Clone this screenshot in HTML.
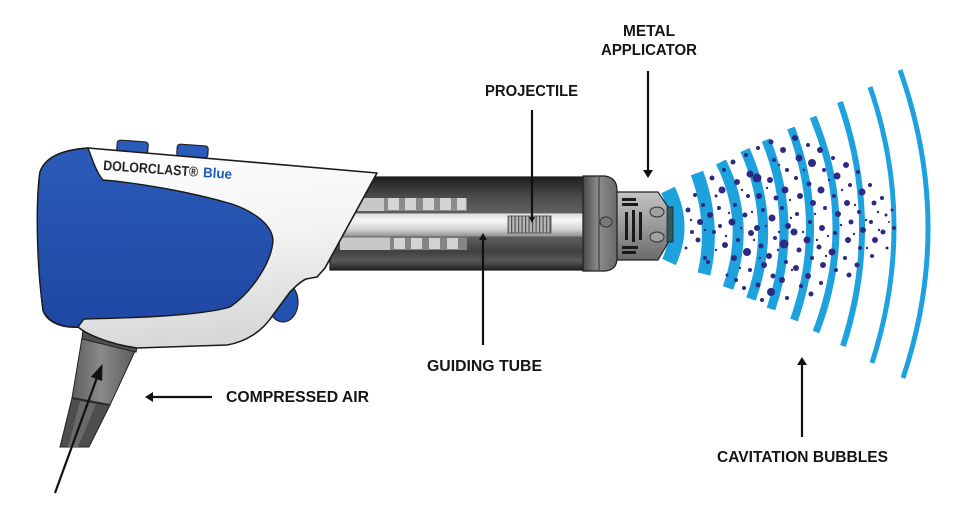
<!DOCTYPE html>
<html><head><meta charset="utf-8"><style>
html,body{margin:0;padding:0;background:#fff;}
svg{display:block;}
text{font-family:"Liberation Sans",Arial,sans-serif;font-weight:bold;}
</style></head><body>
<svg width="967" height="518" viewBox="0 0 967 518" xmlns="http://www.w3.org/2000/svg">
<defs>
<linearGradient id="tube" x1="0" y1="0" x2="0" y2="1">
 <stop offset="0" stop-color="#1e1e1e"/>
 <stop offset="0.12" stop-color="#383838"/>
 <stop offset="0.22" stop-color="#4c4c4c"/>
 <stop offset="0.4" stop-color="#626262"/>
 <stop offset="0.66" stop-color="#5c5c5c"/>
 <stop offset="0.8" stop-color="#404040"/>
 <stop offset="0.9" stop-color="#585858"/>
 <stop offset="1" stop-color="#222"/>
</linearGradient>
<linearGradient id="rod" x1="0" y1="0" x2="0" y2="1">
 <stop offset="0" stop-color="#d8d8d8"/>
 <stop offset="0.3" stop-color="#f7f7f7"/>
 <stop offset="0.7" stop-color="#d0d0d0"/>
 <stop offset="1" stop-color="#8a8a8a"/>
</linearGradient>
<linearGradient id="white" x1="0" y1="0" x2="0.2" y2="1">
 <stop offset="0" stop-color="#ffffff"/>
 <stop offset="0.55" stop-color="#f3f3f3"/>
 <stop offset="1" stop-color="#d8d8d8"/>
</linearGradient>
<linearGradient id="blue" x1="0" y1="0" x2="0" y2="1">
 <stop offset="0" stop-color="#2b5bb9"/>
 <stop offset="1" stop-color="#1f47a3"/>
</linearGradient>
<linearGradient id="cap" x1="0" y1="0" x2="1" y2="0">
 <stop offset="0" stop-color="#4a4a4a"/>
 <stop offset="0.45" stop-color="#8c8c8c"/>
 <stop offset="1" stop-color="#6a6a6a"/>
</linearGradient>
<linearGradient id="app" x1="0" y1="0" x2="0" y2="1">
 <stop offset="0" stop-color="#c4c4c4"/>
 <stop offset="0.5" stop-color="#9a9a9a"/>
 <stop offset="1" stop-color="#6a6a6a"/>
</linearGradient>
<linearGradient id="cone" x1="0" y1="0" x2="1" y2="0">
 <stop offset="0" stop-color="#5e5e5e"/>
 <stop offset="0.45" stop-color="#8a8a8a"/>
 <stop offset="1" stop-color="#5a5a5a"/>
</linearGradient>
<pattern id="coil" width="3.5" height="20" patternUnits="userSpaceOnUse">
 <rect width="3.5" height="20" fill="#b5b5b5"/>
 <rect width="1.2" height="20" fill="#555"/>
</pattern>
</defs>

<!-- waves -->
<g fill="none" stroke="#1ea2de" stroke-linecap="butt">
 <path d="M668,190 Q685.5,226 669,262" stroke-width="15"/>
 <path d="M697,173 Q715.5,224.5 704,274" stroke-width="13"/>
 <path d="M721,162 Q751.5,223 728,288" stroke-width="11"/>
 <path d="M745,150 Q778,223.5 751,299" stroke-width="10"/>
 <path d="M766,140 Q799.5,223.5 771,309" stroke-width="9"/>
 <path d="M791,128 Q827.5,224 794,320" stroke-width="8"/>
 <path d="M813,117 Q857.5,223.5 816,332" stroke-width="7"/>
 <path d="M840,102 Q882.5,224 843,346" stroke-width="6"/>
 <path d="M870,87 Q917,223 872,363" stroke-width="5"/>
 <path d="M900,70 Q954.5,224 903,378" stroke-width="5"/>
</g>

<!-- bubbles -->
<g fill="#2e2a84">
<circle cx="688" cy="210" r="2.5"/><circle cx="692" cy="232" r="2"/><circle cx="686" cy="248" r="1.5"/><circle cx="695" cy="195" r="2"/>
<circle cx="700" cy="222" r="3"/><circle cx="703" cy="205" r="2"/><circle cx="698" cy="240" r="2.5"/><circle cx="705" cy="258" r="2"/>
<circle cx="712" cy="178" r="2.5"/><circle cx="710" cy="215" r="3"/><circle cx="714" cy="232" r="2"/><circle cx="708" cy="262" r="2"/><circle cx="716" cy="196" r="1.5"/>
<circle cx="722" cy="190" r="3.5"/><circle cx="720" cy="226" r="2"/><circle cx="725" cy="245" r="3"/><circle cx="724" cy="170" r="2"/><circle cx="727" cy="275" r="1.5"/><circle cx="719" cy="208" r="2"/>
<circle cx="733" cy="162" r="2.5"/><circle cx="737" cy="182" r="3"/><circle cx="735" cy="205" r="2"/><circle cx="732" cy="222" r="3.5"/><circle cx="738" cy="240" r="2"/><circle cx="734" cy="258" r="3"/><circle cx="736" cy="280" r="2"/>
<circle cx="746" cy="155" r="2"/><circle cx="750" cy="174" r="3.5"/><circle cx="748" cy="196" r="2"/><circle cx="745" cy="215" r="2.5"/><circle cx="751" cy="233" r="3"/><circle cx="747" cy="252" r="4"/><circle cx="750" cy="270" r="2"/><circle cx="744" cy="288" r="2"/>
<circle cx="758" cy="148" r="2"/><circle cx="757" cy="178" r="4.5"/><circle cx="759" cy="196" r="3"/><circle cx="763" cy="210" r="2"/><circle cx="757" cy="228" r="3"/><circle cx="761" cy="246" r="2.5"/><circle cx="764" cy="265" r="3"/><circle cx="758" cy="285" r="2.5"/><circle cx="762" cy="300" r="2"/>
<circle cx="771" cy="142" r="2.5"/><circle cx="774" cy="160" r="2"/><circle cx="770" cy="180" r="3"/><circle cx="776" cy="198" r="2.5"/><circle cx="772" cy="218" r="3.5"/><circle cx="775" cy="238" r="2"/><circle cx="769" cy="256" r="3"/><circle cx="773" cy="276" r="2.5"/><circle cx="771" cy="292" r="4"/>
<circle cx="783" cy="150" r="3"/><circle cx="787" cy="170" r="2"/><circle cx="785" cy="190" r="3.5"/><circle cx="782" cy="208" r="2"/><circle cx="788" cy="226" r="3"/><circle cx="784" cy="244" r="4.5"/><circle cx="786" cy="262" r="2"/><circle cx="782" cy="280" r="3"/><circle cx="787" cy="298" r="2"/>
<circle cx="795" cy="138" r="3"/><circle cx="799" cy="158" r="3.5"/><circle cx="796" cy="178" r="2"/><circle cx="800" cy="196" r="3"/><circle cx="797" cy="214" r="2"/><circle cx="794" cy="232" r="3.5"/><circle cx="799" cy="250" r="2.5"/><circle cx="796" cy="268" r="3"/><circle cx="801" cy="286" r="2"/>
<circle cx="808" cy="145" r="2"/><circle cx="812" cy="163" r="4"/><circle cx="809" cy="184" r="2.5"/><circle cx="813" cy="203" r="3"/><circle cx="810" cy="222" r="2"/><circle cx="807" cy="240" r="3.5"/><circle cx="812" cy="258" r="2"/><circle cx="808" cy="276" r="3"/><circle cx="811" cy="294" r="2.5"/>
<circle cx="820" cy="150" r="3"/><circle cx="824" cy="170" r="2"/><circle cx="821" cy="190" r="3.5"/><circle cx="825" cy="208" r="2"/><circle cx="822" cy="228" r="3"/><circle cx="819" cy="247" r="2.5"/><circle cx="823" cy="265" r="3"/><circle cx="821" cy="283" r="2"/>
<circle cx="833" cy="158" r="2"/><circle cx="837" cy="176" r="3.5"/><circle cx="834" cy="196" r="2"/><circle cx="838" cy="214" r="3"/><circle cx="835" cy="233" r="2"/><circle cx="832" cy="252" r="3.5"/><circle cx="836" cy="270" r="2"/>
<circle cx="846" cy="165" r="3"/><circle cx="850" cy="185" r="2"/><circle cx="847" cy="203" r="3"/><circle cx="851" cy="222" r="2.5"/><circle cx="848" cy="240" r="3"/><circle cx="845" cy="258" r="2"/><circle cx="849" cy="275" r="2.5"/>
<circle cx="858" cy="172" r="2"/><circle cx="862" cy="192" r="3.5"/><circle cx="859" cy="212" r="2"/><circle cx="863" cy="230" r="3"/><circle cx="860" cy="248" r="2"/><circle cx="857" cy="265" r="2.5"/>
<circle cx="870" cy="185" r="2"/><circle cx="874" cy="203" r="2.5"/><circle cx="871" cy="222" r="2"/><circle cx="875" cy="240" r="3"/><circle cx="872" cy="256" r="2"/>
<circle cx="882" cy="198" r="2"/><circle cx="886" cy="215" r="1.5"/><circle cx="883" cy="232" r="2.5"/><circle cx="887" cy="248" r="1.5"/>
<circle cx="892" cy="210" r="1.5"/><circle cx="894" cy="228" r="2"/>
<!-- small specks -->
<circle cx="691" cy="220" r="1.2"/><circle cx="705" cy="230" r="1.2"/><circle cx="716" cy="250" r="1.2"/><circle cx="729" cy="213" r="1.2"/><circle cx="741" cy="228" r="1.2"/>
<circle cx="742" cy="190" r="1.2"/><circle cx="754" cy="240" r="1.2"/><circle cx="766" cy="226" r="1.2"/><circle cx="767" cy="188" r="1.2"/><circle cx="779" cy="232" r="1.2"/>
<circle cx="779" cy="165" r="1.2"/><circle cx="791" cy="218" r="1.2"/><circle cx="792" cy="270" r="1.2"/><circle cx="803" cy="232" r="1.2"/><circle cx="804" cy="170" r="1.2"/>
<circle cx="815" cy="214" r="1.2"/><circle cx="817" cy="240" r="1.2"/><circle cx="828" cy="236" r="1.2"/><circle cx="829" cy="180" r="1.2"/><circle cx="841" cy="225" r="1.2"/>
<circle cx="842" cy="190" r="1.2"/><circle cx="854" cy="234" r="1.2"/><circle cx="855" cy="205" r="1.2"/><circle cx="866" cy="220" r="1.2"/><circle cx="867" cy="248" r="1.2"/>
<circle cx="878" cy="212" r="1.2"/><circle cx="879" cy="230" r="1.2"/><circle cx="889" cy="222" r="1"/><circle cx="760" cy="258" r="1.2"/><circle cx="778" cy="250" r="1.2"/>
<circle cx="740" cy="268" r="1.2"/><circle cx="726" cy="236" r="1.2"/><circle cx="752" cy="212" r="1.2"/><circle cx="790" cy="200" r="1.2"/><circle cx="826" cy="256" r="1.2"/>
</g>

<!-- cable -->
<polygon points="82,338 136,349 110,405 72,398" fill="url(#cone)" stroke="#222" stroke-width="1"/>
<polygon points="72,398 110,405 89,447 60,447" fill="#4e4e4e" stroke="#222" stroke-width="1"/>
<polygon points="80,401 96,404 78,447 68,447" fill="#6a6a6a"/>
<line x1="72" y1="398" x2="110" y2="405" stroke="#2a2a2a" stroke-width="2"/>
<polygon points="83,329 138,343 136,352 82,339" fill="#505050" stroke="#222" stroke-width="1"/>

<!-- tube -->
<rect x="330" y="177" width="256" height="93" fill="url(#tube)" stroke="#1a1a1a" stroke-width="1.2"/>
<rect x="340" y="198" width="127" height="13" fill="#8a8a8a"/>
<rect x="340" y="198" width="44" height="13" fill="#c8c8c8"/>
<g fill="#d4d4d4">
<rect x="388" y="198" width="11" height="12"/><rect x="405" y="198" width="11" height="12"/><rect x="423" y="198" width="11" height="12"/><rect x="440" y="198" width="11" height="12"/><rect x="457" y="198" width="9" height="12"/>
</g>
<rect x="340" y="237" width="127" height="13" fill="#858585"/>
<rect x="340" y="237" width="50" height="13" fill="#c8c8c8"/>
<g fill="#d2d2d2">
<rect x="394" y="238" width="11" height="11"/><rect x="411" y="238" width="11" height="11"/><rect x="429" y="238" width="11" height="11"/><rect x="447" y="238" width="11" height="11"/>
</g>
<rect x="330" y="213" width="256" height="24" fill="url(#rod)" stroke="#555" stroke-width="0.8"/>
<rect x="508" y="216" width="43" height="17" fill="url(#coil)" stroke="#444" stroke-width="0.8"/>

<!-- applicator -->
<path d="M612,192 L658,192 L668,207 L668,243 L658,260 L612,260 Z" fill="url(#app)" stroke="#222" stroke-width="1.2"/>
<rect x="667" y="207" width="6" height="35" fill="#2e5c5a" stroke="#222" stroke-width="0.8"/>
<g fill="#1a1a1a">
<rect x="622" y="198" width="14" height="3"/><rect x="622" y="203" width="16" height="3"/>
<rect x="625" y="212" width="3" height="28"/><rect x="632" y="210" width="3" height="32"/><rect x="639" y="212" width="3" height="28"/>
<rect x="622" y="246" width="16" height="3"/><rect x="622" y="251" width="14" height="3"/>
</g>
<ellipse cx="657" cy="212" rx="7" ry="5" fill="#a0a0a0" stroke="#333" stroke-width="1"/>
<ellipse cx="657" cy="237" rx="7" ry="5" fill="#a0a0a0" stroke="#333" stroke-width="1"/>

<!-- cap -->
<path d="M583,176 L605,176 Q617,178 617,190 L617,258 Q617,270 605,271 L583,271 Z" fill="url(#cap)" stroke="#1e1e1e" stroke-width="1.2"/>
<line x1="599" y1="177" x2="599" y2="270" stroke="#333" stroke-width="1"/>
<ellipse cx="606" cy="222" rx="6" ry="5" fill="#7a7a7a" stroke="#333" stroke-width="1"/>

<!-- blue buttons and bump -->
<rect x="117" y="141" width="31" height="12" rx="3" fill="#2b5bb9" stroke="#222" stroke-width="1.2" transform="rotate(4 132 147)"/>
<rect x="177" y="145" width="31" height="12" rx="3" fill="#2b5bb9" stroke="#222" stroke-width="1.2" transform="rotate(4 192 151)"/>
<ellipse cx="283" cy="302" rx="15" ry="20" fill="#2452b0" stroke="#222" stroke-width="1.2"/>

<!-- white handle -->
<path d="M88,148 L377,173 L325,268 L317,277 L306,279 C300,282 295,287 290,292 L273,315 C262,332 245,342 227,345 L137,348 C115,345 95,338 82,330 L78,327 C58,328 46,320 43,310 C37,260 36,200 40,172 C45,158 60,150 88,148 Z" fill="url(#white)" stroke="#1a1a1a" stroke-width="1.6" stroke-linejoin="round"/>

<!-- blue face -->
<path d="M88,148 C60,150 45,158 40,172 C36,200 36,260 43,310 C48,322 62,328 78,327 L84,319 C130,318 200,316 230,307 C252,292 272,262 273,240 C272,225 255,212 232,204 C190,192 140,183 103,180 C96,172 92,158 88,148 Z" fill="url(#blue)" stroke="#1a1a1a" stroke-width="1.4" stroke-linejoin="round"/>

<!-- handle text -->
<g transform="rotate(4 103 170)">
<text x="103" y="170" font-size="14" fill="#222" textLength="95" lengthAdjust="spacingAndGlyphs">DOLORCLAST®</text>
<text x="203" y="170" font-size="14" fill="#1d5bb5" textLength="29" lengthAdjust="spacingAndGlyphs">Blue</text>
</g>

<!-- arrows -->
<g stroke="#111" stroke-width="2.2" fill="none">
<line x1="648" y1="71" x2="648" y2="171"/>
<line x1="532" y1="110" x2="532" y2="219"/>
<line x1="483" y1="345" x2="483" y2="238"/>
<line x1="802" y1="437" x2="802" y2="363"/>
<line x1="212" y1="397" x2="151" y2="397"/>
<line x1="55" y1="493" x2="96.5" y2="379"/>
</g>
<g fill="#111">
<polygon points="643,170 653,170 648,178"/>
<polygon points="529,217 535,217 532,223"/>
<polygon points="479,240 487,240 483,233"/>
<polygon points="797,365 807,365 802,357"/>
<polygon points="153,392 153,402 145,397"/>
<polygon points="102.5,364 102.1,381.1 90.9,376.9"/>
</g>

<!-- labels -->
<g fill="#151515" font-size="16">
<text x="623" y="36" textLength="52" lengthAdjust="spacingAndGlyphs">METAL</text>
<text x="601" y="55" textLength="96" lengthAdjust="spacingAndGlyphs">APPLICATOR</text>
<text x="485" y="96" textLength="93" lengthAdjust="spacingAndGlyphs">PROJECTILE</text>
<text x="427" y="371" textLength="115" lengthAdjust="spacingAndGlyphs">GUIDING TUBE</text>
<text x="717" y="462" textLength="171" lengthAdjust="spacingAndGlyphs">CAVITATION BUBBLES</text>
<text x="226" y="402" textLength="143" lengthAdjust="spacingAndGlyphs">COMPRESSED AIR</text>
</g>
</svg>
</body></html>
